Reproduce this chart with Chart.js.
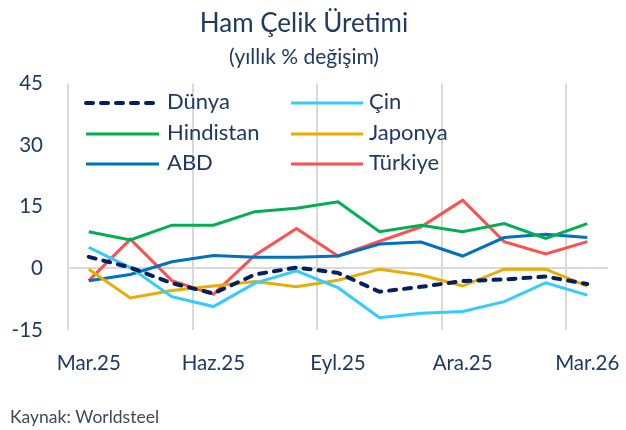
<!DOCTYPE html>
<html>
<head>
<meta charset="utf-8">
<script src="https://cdn.jsdelivr.net/npm/chart.js@4"></script>
<style>
  html, body { margin: 0; padding: 0; background: #ffffff; }
  #wrap { width: 626px; height: 430px; position: relative; }
</style>
</head>
<body>
<div id="wrap"><canvas id="c" width="626" height="430"></canvas></div>
<script>
const months = ['Mar.25','Nis.25','May.25','Haz.25','Tem.25','Ağu.25','Eyl.25','Eki.25','Kas.25','Ara.25','Oca.26','Şub.26','Mar.26'];
const dunya     = [2.8, 0.2, -3.6, -6.1, -1.5, 0.2, -1.1, -5.7, -4.5, -3.1, -2.7, -2.0, -3.8];
const cin       = [5.1, 0.2, -6.9, -9.3, -3.6, -0.6, -4.7, -12.0, -10.9, -10.5, -8.1, -3.5, -6.5];
const hindistan = [8.9, 6.9, 10.5, 10.5, 13.8, 14.6, 16.2, 8.9, 10.5, 8.9, 10.9, 7.3, 10.9];
const japonya   = [-0.2, -7.2, -5.4, -4.3, -3.2, -4.5, -2.9, -0.2, -1.6, -4.3, -0.2, -0.2, -4.3];
const abd       = [-3.0, -1.5, 1.6, 3.1, 2.7, 2.7, 3.0, 5.9, 6.4, 3.0, 7.5, 8.3, 7.5];
const turkiye   = [-3.0, 7.1, -3.0, -6.3, 3.2, 9.7, 3.0, 6.6, 10.1, 16.6, 6.5, 3.5, 6.5];
const yTicks    = [-15, 0, 15, 30, 45];

const navy = '#1f3864';
const FONT = 'Lato, "Open Sans", sans-serif';

const legendPlugin = {
  id: 'gridLegend',
  afterDraw(chart) {
    const ctx = chart.ctx;
    const cols = [{x0: 86, x1: 159, tx: 167}, {x0: 291, x1: 363, tx: 369}];
    const rows = [102, 133, 163];
    ctx.save();
    chart.data.datasets.forEach((ds, i) => {
      const c = cols[i % 2], y = rows[Math.floor(i / 2)];
      ctx.beginPath();
      ctx.strokeStyle = ds.borderColor;
      ctx.lineWidth = ds.borderWidth;
      ctx.lineCap = ds.borderCapStyle || 'butt';
      ctx.setLineDash(ds.borderDash || []);
      ctx.moveTo(c.x0, y + 1);
      ctx.lineTo(c.x1, y + 1);
      ctx.stroke();
      ctx.setLineDash([]);
      ctx.fillStyle = navy;
      ctx.font = '22px ' + FONT;
      ctx.textBaseline = 'middle';
      ctx.textAlign = 'left';
      ctx.fillText(ds.label, c.tx, y);
    });
    ctx.font = '17.5px ' + FONT;
    ctx.fillStyle = '#3f4a55';
    ctx.textBaseline = 'middle';
    ctx.fillText('Kaynak: Worldsteel', 10, 417);
    ctx.restore();
  }
};

new Chart(document.getElementById('c'), {
  type: 'line',
  data: {
    labels: months,
    datasets: [
      {label: 'Dünya', data: dunya, borderColor: '#002060', borderWidth: 4, borderDash: [7, 8], borderCapStyle: 'round'},
      {label: 'Çin', data: cin, borderColor: '#33ccff', borderWidth: 3},
      {label: 'Hindistan', data: hindistan, borderColor: '#00b050', borderWidth: 3},
      {label: 'Japonya', data: japonya, borderColor: '#e8ad00', borderWidth: 3},
      {label: 'ABD', data: abd, borderColor: '#0070c0', borderWidth: 3},
      {label: 'Türkiye', data: turkiye, borderColor: '#ff5050', borderWidth: 3}
    ]
  },
  options: {
    responsive: false,
    animation: false,
    devicePixelRatio: 1,
    layout: {padding: {left: 0, right: 18, top: 0, bottom: 0}},
    elements: {
      point: {radius: 0, hoverRadius: 0},
      line: {tension: 0, fill: false, borderJoinStyle: 'miter'}
    },
    plugins: {
      legend: {display: false},
      tooltip: {enabled: false},
      title: {
        display: true,
        text: 'Ham Çelik Üretimi',
        color: navy,
        font: {family: FONT, size: 26, weight: 'normal'},
        padding: {top: 8, bottom: 0}
      },
      subtitle: {
        display: true,
        text: '(yıllık % değişim)',
        color: navy,
        font: {family: FONT, size: 21, weight: 'normal'},
        padding: {top: 5, bottom: 14}
      }
    },
    scales: {
      x: {
        type: 'category',
        offset: true,
        grid: {
          offset: true,
          drawTicks: false,
          lineWidth: 2,
          color: (c) => (c.index % 3 === 0 ? '#d9d9d9' : 'rgba(0,0,0,0)')
        },
        border: {display: false},
        ticks: {
          autoSkip: false,
          maxRotation: 0,
          padding: 21,
          color: navy,
          font: {family: FONT, size: 20.5},
          callback: function (v, i) { return i % 3 === 0 ? this.getLabelForValue(v) : ''; }
        },
        afterFit: (s) => { s.height = 100; s.paddingLeft = 0; s.paddingRight = 0; }
      },
      y: {
        min: -15,
        max: 45,
        afterBuildTicks: (s) => { s.ticks = yTicks.map(v => ({value: v})); },
        grid: {
          drawTicks: false,
          lineWidth: 2,
          color: (c) => (c.tick && c.tick.value === 0 ? '#d9d9d9' : 'rgba(0,0,0,0)')
        },
        border: {display: false},
        ticks: {
          padding: 25,
          color: navy,
          font: {family: FONT, size: 20.5}
        },
        afterFit: (s) => { s.width = 68; s.paddingTop = 0; s.paddingBottom = 0; }
      }
    }
  },
  plugins: [legendPlugin]
});
</script>
</body>
</html>
